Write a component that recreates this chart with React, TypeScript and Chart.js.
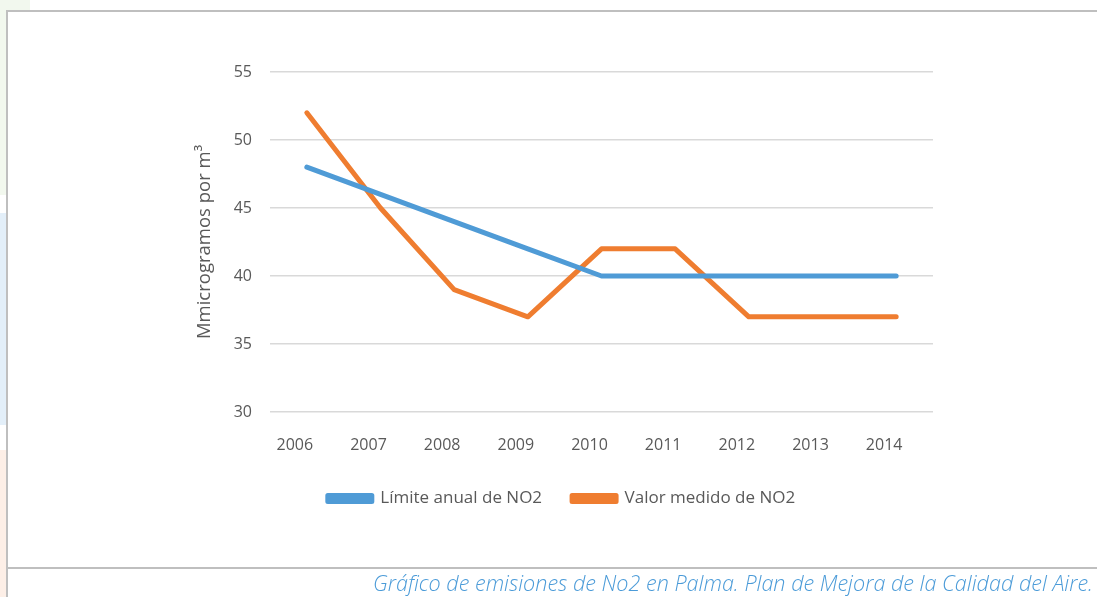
import React, { useEffect, useRef } from "react";
import { Chart, registerables } from "chart.js";

Chart.register(...registerables);

const years = ["2006", "2007", "2008", "2009", "2010", "2011", "2012", "2013", "2014"];
const limiteAnual = [48, 46, 44, 42, 40, 40, 40, 40, 40];
const valorMedido = [52, 45, 39, 37, 42, 42, 37, 37, 37];
const yTicks = [30, 35, 40, 45, 50, 55];
const seriesNames = ["Límite anual de NO2", "Valor medido de NO2"];
const yTitle = "Mmicrogramos por m³";
const caption = "Gráfico de emisiones de No2 en Palma. Plan de Mejora de la Calidad del Aire.";

const FONT = "'Open Sans', 'Noto Sans', sans-serif";
const TEXT = "#595959";

export default function App() {
  const ref = useRef<HTMLCanvasElement | null>(null);

  useEffect(() => {
    document.body.style.margin = "0";
    const canvas = ref.current;
    if (!canvas) return;
    const chart = new Chart(canvas, {
      type: "line",
      data: {
        labels: years,
        datasets: [
          {
            label: seriesNames[0],
            data: limiteAnual,
            borderColor: "#4f9bd6",
            backgroundColor: "#4f9bd6",
            borderWidth: 5,
            pointRadius: 0,
            tension: 0,
            borderCapStyle: "round",
            borderJoinStyle: "round",
          },
          {
            label: seriesNames[1],
            data: valorMedido,
            borderColor: "#ef7d30",
            backgroundColor: "#ef7d30",
            borderWidth: 5,
            pointRadius: 0,
            tension: 0,
            borderCapStyle: "round",
            borderJoinStyle: "round",
          },
        ],
      },
      options: {
        responsive: false,
        animation: false,
        events: [],
        layout: { padding: { left: 190, right: 164, top: 72, bottom: 80 } },
        plugins: {
          tooltip: { enabled: false },
          legend: {
            position: "bottom",
            labels: {
              boxWidth: 44,
              boxHeight: 6,
              padding: 30,
              color: TEXT,
              font: { family: FONT, size: 17 },
            },
          },
        },
        scales: {
          x: {
            offset: true,
            grid: { display: false, drawTicks: false },
            border: { display: false },
            ticks: {
              color: TEXT,
              font: { family: FONT, size: 16 },
              padding: 24,
              labelOffset: -12,
              maxRotation: 0,
            },
            afterFit: (scale: any) => {
              scale.height = 48;
            },
          },
          y: {
            min: 30,
            max: 55,
            afterBuildTicks: (scale: any) => {
              scale.ticks = yTicks.map((v) => ({ value: v }));
            },
            grid: { color: "#d9d9d9", lineWidth: 1.5, drawTicks: false },
            border: { display: false },
            ticks: {
              color: TEXT,
              font: { family: FONT, size: 16 },
              padding: 18,
            },
            title: {
              display: true,
              text: yTitle,
              color: TEXT,
              font: { family: FONT, size: 18.5 },
              padding: { top: 4, bottom: 0 },
            },
            afterFit: (scale: any) => {
              scale.width = 80;
            },
          },
        },
      },
    });
    return () => chart.destroy();
  }, []);

  return (
    <div style={{ position: "absolute", left: 0, top: 0, width: 1097, height: 597, overflow: "hidden", background: "#fff" }}>
      <div style={{ position: "absolute", left: 0, top: 0, width: 6, height: 195, background: "#f2f8ee" }} />
      <div style={{ position: "absolute", left: 0, top: 0, width: 30, height: 10, background: "#f2f8ee" }} />
      <div style={{ position: "absolute", left: 0, top: 213, width: 6, height: 212, background: "#e3eff9" }} />
      <div style={{ position: "absolute", left: 0, top: 450, width: 6, height: 147, background: "#fdefe7" }} />
      <div
        style={{
          position: "absolute",
          left: 6,
          top: 10,
          width: 1200,
          height: 555,
          borderLeft: "2px solid #bfbfbf",
          borderTop: "2px solid #bfbfbf",
          borderBottom: "2px solid #bfbfbf",
          background: "#fff",
        }}
      />
      <div style={{ position: "absolute", left: 6, top: 567, width: 2, height: 30, background: "#bfbfbf" }} />
      <canvas ref={ref} width={1097} height={597} style={{ position: "absolute", left: 0, top: 0, width: 1097, height: 597 }} />
      <div
        style={{
          position: "absolute",
          right: 4,
          top: 569,
          fontFamily: FONT,
          fontStyle: "italic",
          fontWeight: 300,
          fontSize: 21.6,
          color: "#4b9bd8",
          whiteSpace: "nowrap",
          lineHeight: "28px",
        }}
      >
        {caption}
      </div>
    </div>
  );
}
